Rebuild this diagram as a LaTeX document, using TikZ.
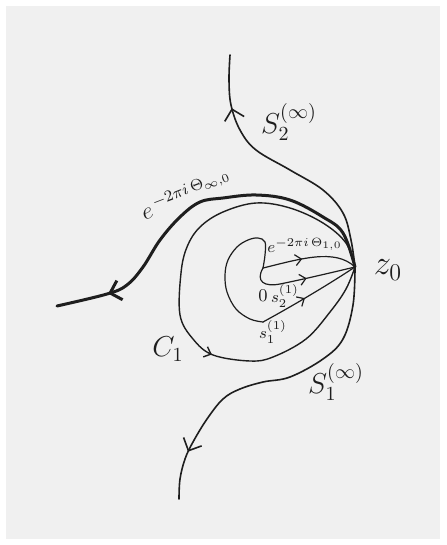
\documentclass[tikz,border=0pt]{standalone}
\usepackage{amsmath}
\usepackage{amssymb}
\usepackage{xcolor}
\usepackage{tikz}
\usetikzlibrary{arrows.meta, decorations.markings}
\definecolor{fundo}{HTML}{F0F0F0}
\definecolor{traco}{HTML}{1E1E1E}
\tikzset{
    curva/.style   = {draw=traco, line width=0.8pt, line cap=round, line join=round},
    grossa/.style  = {curva, line width=1.5pt},
    fina/.style    = {curva, line width=0.6pt},
    seta em/.style = {postaction=decorate, decoration={markings,
                      mark=at position #1 with {\arrow{Straight Barb[length=5pt, width=10pt]}}}},
    seta pq/.style = {postaction=decorate, decoration={markings,
                      mark=at position #1 with {\arrow{Straight Barb[length=3pt, width=5.5pt]}}}},
    rot/.style     = {text=traco, inner sep=1pt},
}

\begin{document}
\begin{tikzpicture}[x=0.5pt, y=-0.5pt]
    \useasboundingbox (0,0) rectangle (446,545);
    \fill[white] (0,0) rectangle (446,545);
    \fill[fundo] (6,6) rectangle (440,539);

    \coordinate (z0) at (355,267);
    \coordinate (A)  at (263,268);
    \coordinate (B)  at (263,322);

    \draw[curva, seta em=0.8] plot[smooth, tension=0.6] coordinates {(z0) (351,240) (343,213) (323,190)
        (290,170) (256,150) (240,130) (231,105) (229,80) (230,55)};
    \draw[grossa, seta em=0.86] plot[smooth, tension=0.6] coordinates {(z0) (343,233) (323,217) (290,200)
        (256,195) (223,198) (200,202) (180,217) (160,240) (143,267) (127,285) (107,294) (57,306)};
    \draw[curva, line width=0.7pt, seta pq=0.64] plot[smooth, tension=0.6] coordinates {(z0) (346,243) (323,223)
        (290,208) (256,203) (223,212) (200,227) (187,247) (181,273) (180,315) (193,339) (213,355)
        (250,361) (273,357) (306,339) (330,312) (346,289) (z0)};
    \draw[curva, seta em=0.85] plot[smooth, tension=0.6] coordinates {(z0) (353,305) (343,339) (323,359)
        (290,377) (263,382) (240,389) (223,399) (207,419) (193,442) (185,459) (180,479) (179,499)};

    \draw[fina] plot[smooth, tension=0.6] coordinates {(A) (265,255) (265,242) (258,238) (248,240)
        (237,247) (228,260) (225,275) (227,292) (236,309) (250,319) (B)};
    \draw[fina, seta pq=0.42] (A) .. controls (300,259) and (335,248) .. (z0);
    \draw[fina, seta pq=0.55] (A) .. controls (255,282) and (265,287) .. (280,284)
        .. controls (300,280) and (330,273) .. (z0);
    \draw[fina, seta pq=0.45] (B) .. controls (285,310) and (320,290) .. (z0);

    \node[rot, font=\LARGE] (lz0) at (388,270) {$z_0$};
    \node[rot, font=\Large] (lS2) at (289,122) {$S_2^{(\infty)}$};
    \node[rot, font=\Large] (lS1) at (336,382) {$S_1^{(\infty)}$};
    \node[rot, font=\large, rotate=21] (lTinf) at (186,194) {$e^{\,-2\pi i\,\Theta_{\infty,0}}$};
    \node[rot, font=\Large] (lC1) at (168,349) {$C_1$};
    \node[rot, font=\small] (l0) at (263,296) {$0$};
    \node[rot, font=\footnotesize] (lT1) at (305,245) {$e^{-2\pi i\,\Theta_{1,0}}$};
    \node[rot, font=\footnotesize] (ls2) at (285,296) {$s_2^{(1)}$};
    \node[rot, font=\footnotesize] (ls1) at (273,332) {$s_1^{(1)}$};
\end{tikzpicture}
\end{document}
